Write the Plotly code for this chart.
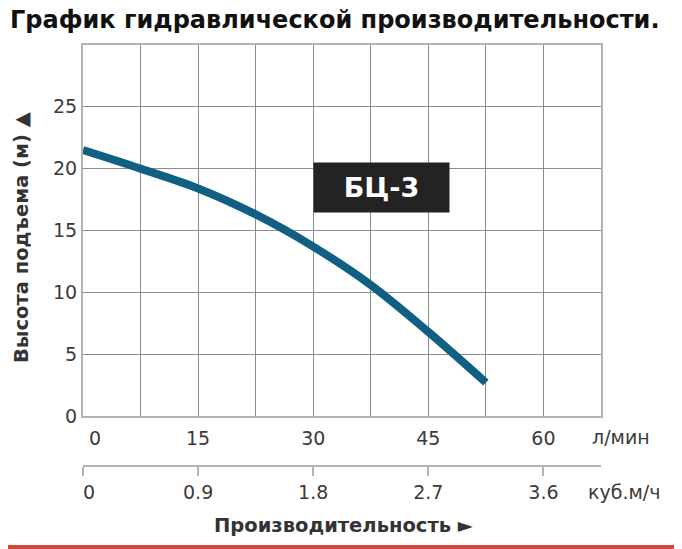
import plotly.graph_objects as go

# ---- data ----
flow_lpm = [0, 7.5, 15, 22.5, 30, 37.5, 45, 52.5]          # л/мин
head_m = [21.5, 20.0, 18.4, 16.3, 13.7, 10.6, 6.8, 2.7]     # м
lpm_tickvals = [0, 15, 30, 45, 60]
lpm_ticktext = ["\u00a0\u00a0\u00a0\u00a00", "15", "30", "45", "60"]
m3h_tickvals = [0, 0.9, 1.8, 2.7, 3.6]
m3h_ticktext = ["\u00a0\u00a00", "0.9", "1.8", "2.7", "3.6"]
head_tickvals = [0, 5, 10, 15, 20, 25]
x_range = [0, 67.5]
m3h_range = [0, 4.05]
y_range = [0, 30]
model_label = "БЦ-3"

FONT = "DejaVu Sans"
GRID = "#8c8c8c"
FRAME = "#b4b4b4"
TXT = "#3a3a3a"

# page body has an 8px margin; work in reference pixel coordinates and subtract it
OFF = 8
W, H = 682 - OFF, 549 - OFF
ml, mr, mt, mb = 83 - OFF, 682 - 601, 45 - OFF, 20
pw = W - ml - mr
ph = H - mt - mb


def px_x(px):
    return (px - OFF - ml) / pw


def px_y(py):
    return (H - mb - (py - OFF)) / ph


fig = go.Figure()
fig.add_trace(go.Scatter(
    x=flow_lpm, y=head_m, mode="lines",
    line=dict(color="#115f82", width=8, shape="spline"),
    hoverinfo="skip", showlegend=False))
# helper (invisible) trace so the second flow axis is drawn
fig.add_trace(go.Scatter(
    x=m3h_range, y=[None, None], xaxis="x2", mode="lines",
    hoverinfo="skip", showlegend=False))

fig.update_layout(
    width=W, height=H,
    margin=dict(l=ml, r=mr, t=mt, b=mb, autoexpand=False),
    paper_bgcolor="white", plot_bgcolor="white",
    font=dict(family=FONT, color=TXT),
    title=dict(text="<b>График гидравлической производительности.</b>",
               x=(10 - OFF) / W, xanchor="left", xref="container",
               y=1 - (20 - OFF) / H, yanchor="middle", yref="container",
               font=dict(family=FONT, size=24, color="#111111")),
    xaxis=dict(range=x_range, tickvals=lpm_tickvals, ticktext=lpm_ticktext,
               showgrid=True, gridcolor=GRID, gridwidth=1,
               minor=dict(dtick=7.5, showgrid=True, gridcolor=GRID, gridwidth=1),
               showline=True, mirror=True, linecolor=FRAME, linewidth=2,
               ticks="", zeroline=False, ticklabelstandoff=4,
               tickfont=dict(size=19, color=TXT)),
    xaxis2=dict(range=m3h_range, tickvals=m3h_tickvals, ticktext=m3h_ticktext,
                overlaying="x", anchor="free", position=px_y(465.7), side="bottom",
                showgrid=False, zeroline=False,
                showline=True, linecolor=FRAME, linewidth=2,
                ticks="outside", ticklen=9, tickwidth=2, tickcolor=FRAME,
                tickfont=dict(size=19, color=TXT)),
    yaxis=dict(range=y_range, tickvals=head_tickvals, domain=[px_y(416), 1],
               showgrid=True, gridcolor=GRID, gridwidth=1,
               showline=True, mirror=True, linecolor=FRAME, linewidth=2,
               ticks="", zeroline=False, ticklabelstandoff=0,
               tickfont=dict(size=19, color=TXT)),
    showlegend=False,
)

ann = dict(xref="paper", yref="paper", showarrow=False,
           xanchor="center", yanchor="middle")
fig.add_annotation(text="<b>Высота подъема (м) ▲</b>",
                   x=px_x(22), y=px_y(238), textangle=-90,
                   font=dict(family=FONT, size=19.5, color="#333333"), **ann)
fig.add_annotation(text="<b>Производительность ►</b>",
                   x=px_x(343), y=px_y(525),
                   font=dict(family=FONT, size=19.5, color="#333333"), **ann)
fig.add_annotation(text="л/мин", x=px_x(621), y=px_y(437),
                   font=dict(family=FONT, size=19, color=TXT), **ann)
fig.add_annotation(text="куб.м/ч", x=px_x(624), y=px_y(492),
                   font=dict(family=FONT, size=19, color=TXT), **ann)
fig.add_annotation(text="<b>" + model_label + "</b>", xref="x", yref="y",
                   x=38.85, y=18.5, showarrow=False,
                   xanchor="center", yanchor="middle",
                   width=127, height=41, borderpad=4,
                   bgcolor="#232323",
                   font=dict(family=FONT, size=27, color="white"))

fig.add_shape(type="rect", xref="paper", yref="paper",
              x0=px_x(0), x1=px_x(690), y0=px_y(552), y1=px_y(545),
              fillcolor="#d5473e", line=dict(width=0), layer="above")

fig.write_html("out.html")
